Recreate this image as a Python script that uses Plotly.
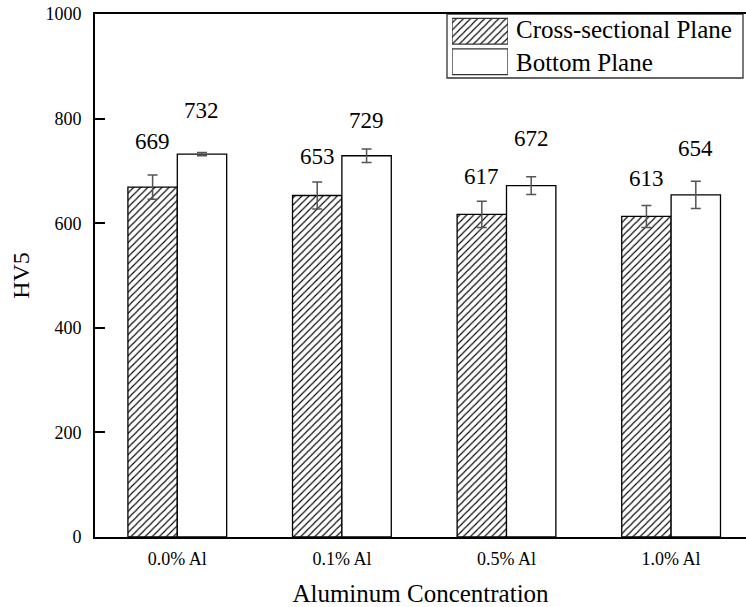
import plotly.graph_objects as go

# Hardness data (HV5) for each aluminum addition
categories = ["0.0% Al", "0.1% Al", "0.5% Al", "1.0% Al"]
cross_section = [669, 653, 617, 613]
cross_section_err = [23, 26, 25, 21]
bottom_plane = [732, 729, 672, 654]
bottom_plane_err = [3, 13, 17, 26]
series_names = ["Cross-sectional Plane", "Bottom Plane"]

# Layout tuning: how far each value label sits above its bar (in HV units)
LABEL_LIFT = [[87, 74, 72, 73], [84, 68, 90, 89]]

FONT = "Liberation Serif"
W, H = 746, 607
M_L, M_R, M_T, M_B = 95, 0, 14, 70
PLOT_W = W - M_L - M_R
PLOT_H = H - M_T - M_B

xs = list(range(len(categories)))
bar_line = dict(color="black", width=1.3)
hatch = dict(shape="/", size=5, solidity=0.22, fgcolor="black", bgcolor="white", fgopacity=1)
err_style = dict(type="data", color="#555555", thickness=1.5, width=5, visible=True)

fig = go.Figure()
fig.add_trace(go.Bar(
    x=xs, y=cross_section, name=series_names[0],
    marker=dict(color="white", line=bar_line, pattern=hatch),
    error_y=dict(array=cross_section_err, **err_style),
    showlegend=False,
))
fig.add_trace(go.Bar(
    x=xs, y=bottom_plane, name=series_names[1],
    marker=dict(color="white", line=bar_line),
    error_y=dict(array=bottom_plane_err, **err_style),
    showlegend=False,
))

# Value labels above each bar
bar_half = 0.15
for si, vals in enumerate([cross_section, bottom_plane]):
    for i, v in enumerate(vals):
        fig.add_annotation(
            x=xs[i] + (-bar_half if si == 0 else bar_half), y=v + LABEL_LIFT[si][i],
            xref="x", yref="y", text=str(v), showarrow=False,
            yanchor="middle", xanchor="center",
            font=dict(family=FONT, size=23, color="black"),
        )

# Custom legend: box, hatched / plain swatches and labels
def px_x(p):
    return (p - M_L) / PLOT_W

def px_y(p):
    return (H - M_B - p) / PLOT_H

fig.add_trace(go.Bar(
    x=[1, 1], y=[0, 1], orientation="h", width=[0.84, 0.84],
    marker=dict(color="white", line=dict(color="#333333", width=1.3),
                pattern=dict(shape=["", "/"], size=5, solidity=0.22, fgcolor="black",
                             bgcolor="white", fgopacity=1)),
    xaxis="x2", yaxis="y2", showlegend=False, hoverinfo="skip",
))
fig.add_shape(type="rect", xref="paper", yref="paper",
              x0=px_x(447), x1=px_x(743), y0=px_y(78), y1=px_y(14),
              line=dict(color="#333333", width=1.3), fillcolor="rgba(0,0,0,0)", layer="below")
for name, yc in zip(series_names, [30, 63]):
    fig.add_annotation(x=px_x(514), y=px_y(yc), xref="paper", yref="paper",
                       text=name, showarrow=False, xanchor="left", yanchor="middle",
                       font=dict(family=FONT, size=25, color="black"))

fig.update_layout(
    width=W, height=H,
    margin=dict(l=M_L, r=M_R, t=M_T, b=M_B, pad=0),
    paper_bgcolor="white", plot_bgcolor="white",
    barmode="group", bargap=0.4, bargroupgap=0,
    font=dict(family=FONT, color="black"),
    xaxis=dict(
        range=[-0.5, 3.455], tickvals=xs, ticktext=categories,
        showline=True, linecolor="black", linewidth=2, mirror=True,
        ticks="outside", ticklen=4, tickcolor="rgba(0,0,0,0)",
        tickfont=dict(family=FONT, size=18),
        showgrid=False, zeroline=False,
        title=dict(text="Aluminum Concentration", font=dict(family=FONT, size=25), standoff=18),
    ),
    yaxis=dict(
        range=[0, 1000], tickvals=[0, 200, 400, 600, 800, 1000],
        showline=True, linecolor="black", linewidth=2, mirror=False,
        ticks="inside", ticklen=10, tickwidth=2, tickcolor="black",
        ticklabelstandoff=8,
        tickfont=dict(family=FONT, size=18),
        showgrid=False, zeroline=False,
        title=dict(text="HV5", font=dict(family=FONT, size=24), standoff=9),
    ),
    xaxis2=dict(domain=[px_x(452), px_x(508)], range=[0, 1], visible=False, anchor="y2"),
    yaxis2=dict(domain=[px_y(77), px_y(16)], range=[-0.5, 1.5], visible=False, anchor="x2"),
)

fig.write_html("out.html")
